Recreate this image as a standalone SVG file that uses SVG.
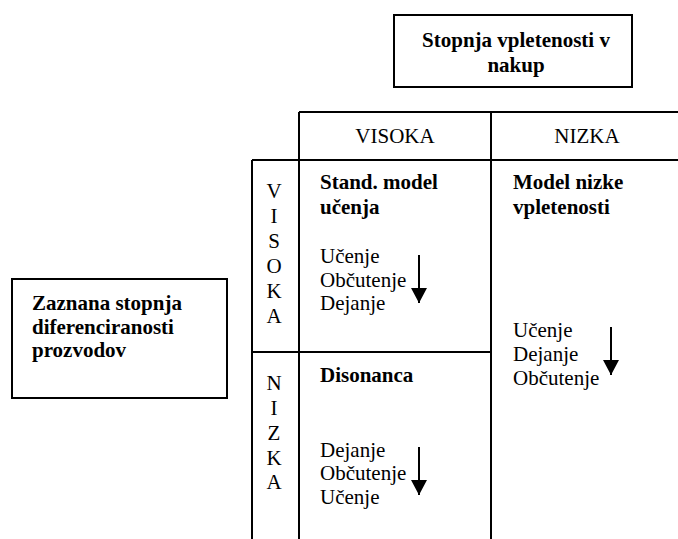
<svg xmlns="http://www.w3.org/2000/svg" width="678" height="539" viewBox="0 0 678 539">
<defs>
<style>
.t{font-family:"Liberation Serif","Times New Roman",serif;font-size:21px;fill:#000}
.b{font-weight:bold}
.m{text-anchor:middle}
.ln{stroke:#000;stroke-width:2;fill:none}
.box{stroke:#000;stroke-width:2;fill:#fff}
</style>
<marker id="ah" markerWidth="15" markerHeight="16" viewBox="0 0 15 16" refX="15" refY="8" orient="auto" markerUnits="userSpaceOnUse">
<path d="M0,0 L15,8 L0,16 Z" fill="#000"/>
</marker>
</defs>
<rect width="678" height="539" fill="#fff"/>
<g id="top-box">
<rect class="box" x="394" y="15" width="238" height="72"/>
<text class="t b m" x="516" y="47">Stopnja vpletenosti v</text>
<text class="t b m" x="516" y="72">nakup</text>
</g>
<g id="left-box">
<rect class="box" x="12" y="279" width="215" height="119"/>
<text class="t b" x="32" y="310">Zaznana stopnja</text>
<text class="t b" x="32" y="334">diferenciranosti</text>
<text class="t b" x="32" y="357">prozvodov</text>
</g>
<g id="grid">
<path class="ln" d="M299,112 H678 M252,160 H678 M252,352 H491 M299,112 V539 M491,112 V539 M252,160 V539"/>
</g>
<g id="header-visoka"><text class="t m" x="395" y="143">VISOKA</text></g>
<g id="header-nizka"><text class="t m" x="587" y="143">NIZKA</text></g>
<g id="row-visoka">
<text class="t m" x="274" y="198">V</text>
<text class="t m" x="274" y="223">I</text>
<text class="t m" x="274" y="248">S</text>
<text class="t m" x="274" y="273">O</text>
<text class="t m" x="274" y="298">K</text>
<text class="t m" x="274" y="323">A</text>
</g>
<g id="row-nizka">
<text class="t m" x="274" y="390">N</text>
<text class="t m" x="274" y="415">I</text>
<text class="t m" x="274" y="440">Z</text>
<text class="t m" x="274" y="465">K</text>
<text class="t m" x="274" y="489">A</text>
</g>
<g id="cell-standard">
<text class="t b" x="320" y="189">Stand. model</text>
<text class="t b" x="320" y="214">učenja</text>
<text class="t" x="320" y="263">Učenje</text>
<text class="t" x="320" y="287">Občutenje</text>
<text class="t" x="320" y="310">Dejanje</text>
</g>
<g id="cell-disonanca">
<text class="t b" x="320" y="382">Disonanca</text>
<text class="t" x="320" y="457">Dejanje</text>
<text class="t" x="320" y="480">Občutenje</text>
<text class="t" x="320" y="504">Učenje</text>
</g>
<g id="cell-nizka">
<text class="t b" x="513" y="189">Model nizke</text>
<text class="t b" x="513" y="214">vpletenosti</text>
<text class="t" x="513" y="337">Učenje</text>
<text class="t" x="513" y="361">Dejanje</text>
<text class="t" x="513" y="385">Občutenje</text>
</g>
<g id="connectors">
<line class="ln" x1="419" y1="255" x2="419" y2="303" marker-end="url(#ah)"/>
<line class="ln" x1="419" y1="447" x2="419" y2="495" marker-end="url(#ah)"/>
<line class="ln" x1="611" y1="327" x2="611" y2="375" marker-end="url(#ah)"/>
</g>
</svg>
